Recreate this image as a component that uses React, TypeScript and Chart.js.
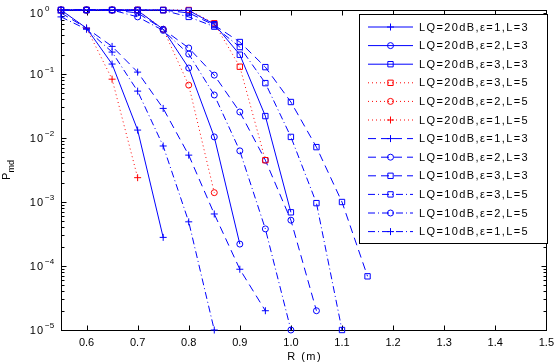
import React, { useEffect, useRef } from 'react';
import { Chart, registerables } from 'chart.js';

Chart.register(...registerables);

// ---------- data ----------
const R = [0.55, 0.6, 0.65, 0.7, 0.75, 0.8, 0.85, 0.9, 0.95, 1.0, 1.05, 1.1, 1.15];

const lq20_e1_L3 = [1, 0.52, 0.143, 0.0133, 2.8e-4];
const lq20_e2_L3 = [1, 1, 1, 0.98, 0.5, 0.124, 0.0104, 2.2e-4];
const lq20_e3_L3 = [1, 1, 1, 1, 1, 0.98, 0.6, 0.2, 0.022, 6.9e-4];
const lq20_e3_L5 = [1, 1, 1, 1, 1, 1, 0.62, 0.13, 0.0045];
const lq20_e2_L5 = [1, 1, 1, 1, 0.5, 0.067, 0.0014];
const lq20_e1_L5 = [1, 0.52, 0.083, 0.0024];
const lq10_e1_L3 = [0.9, 0.52, 0.27, 0.107, 0.029, 0.0054, 6.5e-4, 8.9e-5, 2.0e-5];
const lq10_e2_L3 = [1, 1, 1, 0.9, 0.5, 0.255, 0.096, 0.0255, 0.0045, 5.2e-4, 2.0e-5];
const lq10_e3_L3 = [1, 1, 1, 1, 1, 0.9, 0.58, 0.316, 0.128, 0.0365, 0.0072, 1.0e-3, 6.9e-5];
const lq10_e3_L5 = [1, 1, 1, 1, 0.99, 0.78, 0.55, 0.264, 0.072, 0.0104, 9.6e-4, 1e-5];
const lq10_e2_L5 = [1, 1, 1, 0.78, 0.48, 0.205, 0.047, 0.0063, 3.8e-4, 1e-5];
const lq10_e1_L5 = [0.78, 0.5, 0.22, 0.054, 0.0075, 4.9e-4, 1e-5];

const xTicks = [0.6, 0.7, 0.8, 0.9, 1.0, 1.1, 1.2, 1.3, 1.4, 1.5];
const yExponents = [0, -1, -2, -3, -4, -5];
const xTitle = 'R (m)';

const labels = [
  'LQ=20dB,\u03b5=1,L=3',
  'LQ=20dB,\u03b5=2,L=3',
  'LQ=20dB,\u03b5=3,L=3',
  'LQ=20dB,\u03b5=3,L=5',
  'LQ=20dB,\u03b5=2,L=5',
  'LQ=20dB,\u03b5=1,L=5',
  'LQ=10dB,\u03b5=1,L=3',
  'LQ=10dB,\u03b5=2,L=3',
  'LQ=10dB,\u03b5=3,L=3',
  'LQ=10dB,\u03b5=3,L=5',
  'LQ=10dB,\u03b5=2,L=5',
  'LQ=10dB,\u03b5=1,L=5',
];
const values = [
  lq20_e1_L3, lq20_e2_L3, lq20_e3_L3, lq20_e3_L5, lq20_e2_L5, lq20_e1_L5,
  lq10_e1_L3, lq10_e2_L3, lq10_e3_L3, lq10_e3_L5, lq10_e2_L5, lq10_e1_L5,
];

// ---------- styles ----------
const BLUE = '#0000ff';
const RED = '#ff0000';
const FONT = '"Liberation Sans", Arial, Helvetica, sans-serif';
const SOLID: number[] = [];
const DOTTED = [1, 3];
const DASHED = [8, 5];
const DASHDOT = [7, 3, 1, 3];

const styles = [
  { color: BLUE, dash: SOLID, marker: 'cross' },
  { color: BLUE, dash: SOLID, marker: 'circle' },
  { color: BLUE, dash: SOLID, marker: 'rect' },
  { color: RED, dash: DOTTED, marker: 'rect' },
  { color: RED, dash: DOTTED, marker: 'circle' },
  { color: RED, dash: DOTTED, marker: 'cross' },
  { color: BLUE, dash: DASHED, marker: 'cross' },
  { color: BLUE, dash: DASHED, marker: 'circle' },
  { color: BLUE, dash: DASHED, marker: 'rect' },
  { color: BLUE, dash: DASHDOT, marker: 'rect' },
  { color: BLUE, dash: DASHDOT, marker: 'circle' },
  { color: BLUE, dash: DASHDOT, marker: 'cross' },
];

const markerRadius: Record<string, number> = { cross: 3.5, circle: 3, rect: 3.8 };

function drawMarker(ctx: CanvasRenderingContext2D, style: string, x: number, y: number, r: number) {
  ctx.beginPath();
  if (style === 'cross') {
    ctx.moveTo(x - r, y); ctx.lineTo(x + r, y);
    ctx.moveTo(x, y - r); ctx.lineTo(x, y + r);
  } else if (style === 'circle') {
    ctx.arc(x, y, r, 0, Math.PI * 2);
  } else {
    const s = r * Math.SQRT1_2;
    ctx.rect(x - s, y - s, 2 * s, 2 * s);
  }
  ctx.stroke();
}

const matlabPlugin = {
  id: 'matlabAxes',
  beforeDatasetsDraw(chart: any) {
    const { ctx, chartArea: a, scales } = chart;
    const xs = scales.x, ys = scales.y;
    ctx.save();
    ctx.strokeStyle = '#000';
    ctx.lineWidth = 1;
    ctx.setLineDash([]);
    const L = Math.round(a.left) + 0.5, T = Math.round(a.top) + 0.5;
    const Rr = Math.round(a.right) + 0.5, B = Math.round(a.bottom) + 0.5;
    ctx.strokeRect(L, T, Rr - L, B - T);
    ctx.beginPath();
    for (const v of xTicks) {
      const px = Math.round(xs.getPixelForValue(v)) + 0.5;
      ctx.moveTo(px, B); ctx.lineTo(px, B - 5);
      ctx.moveTo(px, T); ctx.lineTo(px, T + 5);
    }
    for (const e of yExponents) {
      for (let m = 1; m <= 9; m++) {
        const v = m * Math.pow(10, e);
        if (v > 1.0000001) break;
        const py = Math.round(ys.getPixelForValue(v)) + 0.5;
        const len = m === 1 ? 5 : 3;
        ctx.moveTo(L, py); ctx.lineTo(L + len, py);
        ctx.moveTo(Rr, py); ctx.lineTo(Rr - len, py);
      }
    }
    ctx.stroke();
    ctx.restore();
  },
  afterDraw(chart: any) {
    const { ctx, scales, chartArea: a } = chart;
    const ys = scales.y;
    ctx.save();
    ctx.fillStyle = '#000';
    // y tick labels 10^e
    for (const e of yExponents) {
      const py = ys.getPixelForValue(Math.pow(10, e));
      const cy = Math.max(py + 0.5, 13.5);
      ctx.font = `11px ${FONT}`;
      (ctx as any).letterSpacing = '1px';
      ctx.textAlign = 'right';
      ctx.textBaseline = 'middle';
      ctx.fillText('10', 44, cy);
      ctx.font = `8px ${FONT}`;
      (ctx as any).letterSpacing = '0px';
      ctx.textAlign = 'left';
      ctx.fillText(e === 0 ? '0' : '\u2212' + String(-e), 45, cy - 5);
    }
    // x title
    ctx.font = `11px ${FONT}`;
    (ctx as any).letterSpacing = '1.5px';
    ctx.textAlign = 'left';
    ctx.textBaseline = 'middle';
    const tw = ctx.measureText(xTitle).width;
    ctx.fillText(xTitle, (a.left + a.right) / 2 - tw / 2 + 1, 357);
    (ctx as any).letterSpacing = '0px';

    // y title P_md
    ctx.save();
    ctx.translate(10, 170);
    ctx.rotate(-Math.PI / 2);
    ctx.textAlign = 'left';
    ctx.textBaseline = 'alphabetic';
    ctx.font = `11px ${FONT}`;
    const pw = ctx.measureText('P').width;
    ctx.font = `9px ${FONT}`;
    const mw = ctx.measureText('md').width;
    const start = -(pw + mw) / 2;
    ctx.font = `11px ${FONT}`;
    ctx.fillText('P', start, 0);
    ctx.font = `9px ${FONT}`;
    ctx.fillText('md', start + pw, 4);
    ctx.restore();

    // legend
    const bx = 359.5, by = 14.5, bw = 188, bh = 229;
    ctx.fillStyle = '#fff';
    ctx.fillRect(bx, by, bw, bh);
    ctx.strokeStyle = '#000';
    ctx.lineWidth = 1;
    ctx.setLineDash([]);
    ctx.strokeRect(bx, by, bw, bh);
    const ds = chart.data.datasets;
    ds.forEach((d: any, i: number) => {
      const cy = 27 + i * 18.6;
      const st = styles[i];
      ctx.strokeStyle = st.color;
      ctx.lineWidth = 1;
      ctx.setLineDash(st.dash);
      ctx.beginPath();
      ctx.moveTo(368, cy); ctx.lineTo(413, cy);
      ctx.stroke();
      ctx.setLineDash([]);
      drawMarker(ctx, st.marker, 390.5, cy, markerRadius[st.marker]);
      ctx.fillStyle = '#000';
      ctx.font = `11px ${FONT}`;
      (ctx as any).letterSpacing = '1.4px';
      ctx.textAlign = 'left';
      ctx.textBaseline = 'middle';
      ctx.fillText(d.label, 419, cy + 0.5);
    });
    (ctx as any).letterSpacing = '0px';
    ctx.restore();
  },
};

export default function App() {
  const ref = useRef<HTMLCanvasElement>(null);
  useEffect(() => {
    const datasets = values.map((vals, i) => {
      const st = styles[i];
      return {
        label: labels[i],
        data: vals.map((v, j) => ({ x: R[j], y: v })),
        borderColor: st.color,
        backgroundColor: st.color,
        borderWidth: 1,
        borderDash: st.dash,
        pointStyle: st.marker,
        pointRadius: markerRadius[st.marker],
        pointBorderColor: st.color,
        pointBackgroundColor: 'rgba(0,0,0,0)',
        pointBorderWidth: 1,
        tension: 0,
        fill: false,
        clip: false,
      };
    });
    const chart = new Chart(ref.current as HTMLCanvasElement, {
      type: 'line',
      data: { datasets } as any,
      options: {
        responsive: false,
        animation: false,
        events: [],
        layout: { padding: { top: 10, right: 11, left: 0, bottom: 0 } },
        plugins: { legend: { display: false }, tooltip: { enabled: false } },
        scales: {
          x: {
            type: 'linear',
            min: 0.55,
            max: 1.5,
            afterBuildTicks: (s: any) => { s.ticks = xTicks.map((v) => ({ value: v })); },
            afterFit: (s: any) => { s.height = 34; },
            grid: { display: false, drawTicks: false },
            border: { display: false },
            ticks: {
              color: '#000',
              font: { family: FONT, size: 11 },
              padding: 6,
              maxRotation: 0,
              autoSkip: false,
              callback: (v: any) => Number(v).toFixed(1),
            },
            title: { display: false },
          },
          y: {
            type: 'logarithmic',
            min: 1e-5,
            max: 1,
            afterFit: (s: any) => { s.width = 61; },
            ticks: { display: false },
            grid: { display: false },
            border: { display: false },
          },
        },
      } as any,
      plugins: [matlabPlugin as any],
    });
    return () => chart.destroy();
  }, []);
  return (
    <div style={{ position: 'absolute', left: 0, top: 0, width: 560, height: 364, background: '#fff' }}>
      <canvas ref={ref} width={560} height={364} style={{ display: 'block' }} />
    </div>
  );
}
